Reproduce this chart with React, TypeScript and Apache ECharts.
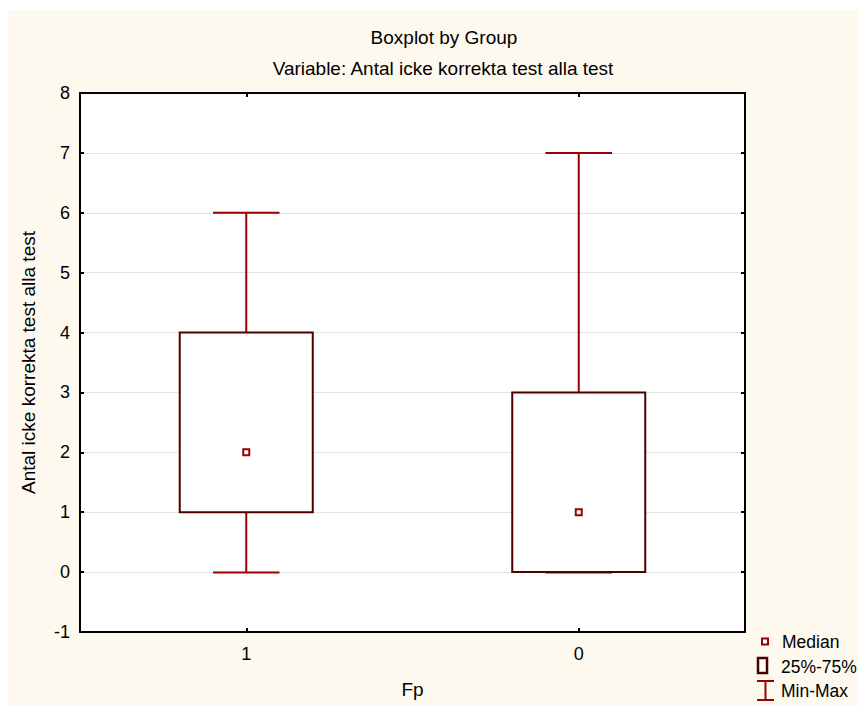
import React, { useEffect, useRef } from "react";
import * as echarts from "echarts";

const categories = ["1", "0"];
const mins = [0, 0];
const q1s = [1, 0];
const medians = [2, 1];
const q3s = [4, 3];
const maxs = [6, 7];
const yTicks = { min: -1, max: 8, interval: 1 };

const titleText = "Boxplot by Group";
const subtitleText = "Variable: Antal icke korrekta test alla test";
const yName = "Antal icke korrekta test alla test";
const xName = "Fp";
const legendLabels = ["Median", "25%-75%", "Min-Max"];

const FONT = "'Liberation Sans', Arial, sans-serif";
const WHISK = "#990000";
const BOX = "#4d0000";
const CREAM = "#fef9ee";

export default function App() {
  const ref = useRef<HTMLDivElement>(null);
  useEffect(() => {
    if (!ref.current) return;
    const chart = echarts.init(ref.current, null, { renderer: "svg" });
    const data = categories.map((_, i) => [i, mins[i], q1s[i], medians[i], q3s[i], maxs[i]]);
    const axisLine = { show: true, onZero: false, lineStyle: { color: "#000", width: 2 } };
    const axisTick = { show: true, inside: true, length: 4, lineStyle: { color: "#000", width: 2 } };
    chart.setOption({
      animation: false,
      backgroundColor: CREAM,
      textStyle: { fontFamily: FONT },
      grid: { left: 72, top: 83, right: 121, bottom: 74, show: true, backgroundColor: "#fff", borderWidth: 0 },
      xAxis: [
        {
          type: "category",
          data: categories,
          position: "bottom",
          axisLine,
          axisTick: { ...axisTick, alignWithLabel: true },
          axisLabel: { color: "#000", fontSize: 18, margin: 13, fontFamily: FONT },
          splitLine: { show: false },
          name: xName,
          nameLocation: "middle",
          nameGap: 48,
          nameTextStyle: { color: "#000", fontSize: 19, fontFamily: FONT },
        },
        {
          type: "category",
          data: categories,
          position: "top",
          axisLine,
          axisTick: { ...axisTick, alignWithLabel: true },
          axisLabel: { show: false },
          splitLine: { show: false },
        },
      ],
      yAxis: [
        {
          type: "value",
          min: yTicks.min,
          max: yTicks.max,
          interval: yTicks.interval,
          position: "left",
          axisLine,
          axisTick,
          axisLabel: { color: "#000", fontSize: 18, margin: 10, fontFamily: FONT },
          splitLine: { show: true, lineStyle: { color: "#e2e2e2", width: 1 } },
          name: yName,
          nameLocation: "middle",
          nameGap: 42,
          nameTextStyle: { color: "#000", fontSize: 19, fontFamily: FONT },
        },
        {
          type: "value",
          min: yTicks.min,
          max: yTicks.max,
          interval: yTicks.interval,
          position: "right",
          axisLine,
          axisTick,
          axisLabel: { show: false },
          splitLine: { show: false },
        },
      ],
      graphic: [
        {
          type: "text",
          x: 436,
          y: 27,
          style: { text: titleText, font: `19px ${FONT}`, fill: "#000", align: "center", verticalAlign: "middle" },
        },
        {
          type: "text",
          x: 435,
          y: 58,
          style: { text: subtitleText, font: `19px ${FONT}`, fill: "#000", align: "center", verticalAlign: "middle" },
        },
        {
          type: "rect",
          shape: { x: 754, y: 628.5, width: 6, height: 6 },
          style: { fill: "#fff", stroke: WHISK, lineWidth: 2 },
        },
        {
          type: "text",
          x: 774,
          y: 632,
          style: { text: legendLabels[0], font: `17.5px ${FONT}`, fill: "#000", verticalAlign: "middle" },
        },
        {
          type: "rect",
          shape: { x: 750, y: 648, width: 9, height: 15 },
          style: { fill: "#fff", stroke: BOX, lineWidth: 2.5 },
        },
        {
          type: "text",
          x: 773,
          y: 657,
          style: { text: legendLabels[1], font: `17.5px ${FONT}`, fill: "#000", verticalAlign: "middle" },
        },
        { type: "line", shape: { x1: 749, y1: 671, x2: 766, y2: 671 }, style: { stroke: WHISK, lineWidth: 2 } },
        { type: "line", shape: { x1: 757.5, y1: 671, x2: 757.5, y2: 690 }, style: { stroke: WHISK, lineWidth: 2 } },
        { type: "line", shape: { x1: 749, y1: 690, x2: 766, y2: 690 }, style: { stroke: WHISK, lineWidth: 2 } },
        {
          type: "text",
          x: 773,
          y: 681,
          style: { text: legendLabels[2], font: `17.5px ${FONT}`, fill: "#000", verticalAlign: "middle" },
        },
      ],
      series: [
        {
          type: "custom",
          xAxisIndex: 0,
          yAxisIndex: 0,
          data,
          renderItem: (params: any, api: any) => {
            const cat = api.value(0);
            const bw = api.size([1, 0])[0];
            const boxW = bw * 0.4;
            const capW = bw * 0.2;
            const pMin = api.coord([cat, api.value(1)]);
            const pQ1 = api.coord([cat, api.value(2)]);
            const pMed = api.coord([cat, api.value(3)]);
            const pQ3 = api.coord([cat, api.value(4)]);
            const pMax = api.coord([cat, api.value(5)]);
            const cx = pMin[0];
            const ws = { stroke: WHISK, lineWidth: 2 };
            return {
              type: "group",
              children: [
                { type: "line", shape: { x1: cx, y1: pQ3[1], x2: cx, y2: pMax[1] }, style: ws },
                { type: "line", shape: { x1: cx - capW / 2, y1: pMax[1], x2: cx + capW / 2, y2: pMax[1] }, style: ws },
                { type: "line", shape: { x1: cx, y1: pQ1[1], x2: cx, y2: pMin[1] }, style: ws },
                { type: "line", shape: { x1: cx - capW / 2, y1: pMin[1] + 0.5, x2: cx + capW / 2, y2: pMin[1] + 0.5 }, style: ws },
                {
                  type: "rect",
                  shape: { x: cx - boxW / 2, y: pQ3[1], width: boxW, height: pQ1[1] - pQ3[1] },
                  style: { fill: "#fff", stroke: BOX, lineWidth: 2 },
                },
                {
                  type: "rect",
                  shape: { x: cx - 3, y: pMed[1] - 3, width: 6, height: 6 },
                  style: { fill: "#fff", stroke: WHISK, lineWidth: 2 },
                },
              ],
            };
          },
        },
      ],
    });
    return () => chart.dispose();
  }, []);
  return (
    <div style={{ paddingTop: 2 }}>
      <div ref={ref} style={{ width: 858, height: 696 }} />
    </div>
  );
}
